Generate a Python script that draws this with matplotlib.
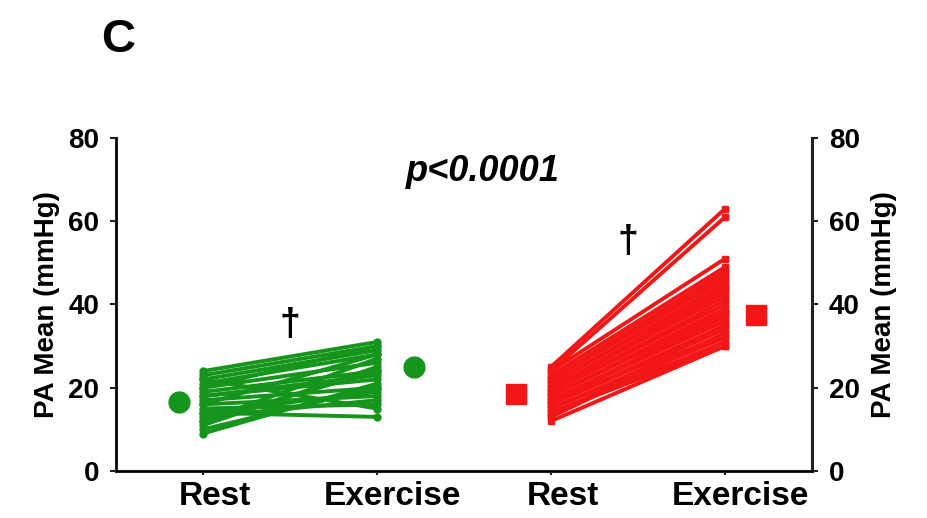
import matplotlib.pyplot as plt

plt.rcParams['font.family'] = ['Liberation Sans', 'DejaVu Sans']
plt.rcParams['font.weight'] = 'bold'

# PA mean (mmHg), one pair per subject
green_rest = [24, 23, 22, 21, 20, 19, 18, 17, 16, 15, 14, 13, 12, 11, 10, 9, 20, 18, 16, 14, 12, 22]
green_ex = [31, 30, 29, 28, 26, 24, 22, 20, 18, 16, 13, 17, 27, 25, 20, 21, 30, 23, 28, 19, 24, 15]

red_rest = [25, 24, 24, 23, 22, 22, 21, 21, 20, 20, 19, 19, 18, 18, 17, 17, 16, 16, 15, 15,
            14, 14, 13, 13, 12, 22, 19, 16]
red_ex = [63, 61, 51, 49, 47, 46, 45, 44, 43, 42, 41, 40, 39, 38, 37, 36, 35, 34, 33, 32,
          31, 30, 33, 35, 30, 48, 44, 38]

# group means (rest, exercise)
green_mean = [16.5, 25]
red_mean = [18.5, 37.5]

tick_labels = ['Rest', 'Exercise', 'Rest', 'Exercise']

GREEN = '#16951c'
RED = '#f21616'

fig = plt.figure(figsize=(9.28, 5.18), dpi=100)
ax = fig.add_axes([0.125, 0.0907, 0.75, 0.643])

for r, e in zip(green_rest, green_ex):
    ax.plot([1, 2], [r, e], color=GREEN, lw=2.8, marker='o', ms=5, solid_capstyle='round')
for r, e in zip(red_rest, red_ex):
    ax.plot([3, 4], [r, e], color=RED, lw=2.8, marker='s', ms=5)

ax.plot([0.86, 2.21], green_mean, 'o', color=GREEN, ms=15, ls='none')
ax.plot([2.80, 4.18], red_mean, 's', color=RED, ms=14, ls='none')

ax.set_xlim(0.5, 4.5)
ax.set_ylim(0, 80)
ax.set_yticks([0, 20, 40, 60, 80])

# labels sit a little right of the group positions; short marks at the positions
ax.set_xticks([1.07, 2.09, 3.07, 4.09])
ax.set_xticklabels(tick_labels, fontsize=24, fontweight='bold')
ax.set_xticks([1, 2, 3, 4], minor=True)
ax.tick_params(axis='x', which='major', length=0, pad=7)
ax.tick_params(axis='x', which='minor', width=1.5, length=3, color='#222222')

ax.spines['top'].set_visible(False)
for s in ['left', 'right', 'bottom']:
    ax.spines[s].set_linewidth(2.2)
    ax.spines[s].set_color('#222222')

ax.tick_params(axis='y', labelsize=20, width=1.5, length=4, color='#222222', pad=8)
ax.set_ylabel('PA Mean (mmHg)', fontsize=20, fontweight='bold', labelpad=6)

ax2 = ax.twinx()
ax2.set_ylim(0, 80)
ax2.set_yticks([0, 20, 40, 60, 80])
ax2.spines['top'].set_visible(False)
ax2.spines['right'].set_linewidth(2.2)
ax2.spines['right'].set_color('#222222')
ax2.tick_params(axis='y', labelsize=20, width=1.5, length=4, color='#222222', pad=8)
ax2.set_ylabel('PA Mean (mmHg)', fontsize=20, fontweight='bold', rotation=90, labelpad=8)

ax.text(2.61, 72, 'p<0.0001', fontsize=26, fontweight='bold', style='italic',
        ha='center', va='center')
ax.text(1.5, 35, '\u2020', fontsize=27, fontweight='bold', ha='center', va='center')
ax.text(3.44, 55, '\u2020', fontsize=27, fontweight='bold', ha='center', va='center')

fig.text(0.127, 0.922, 'C', fontsize=34, fontweight='bold', ha='center', va='center')

fig.savefig('out.png', dpi=100)
